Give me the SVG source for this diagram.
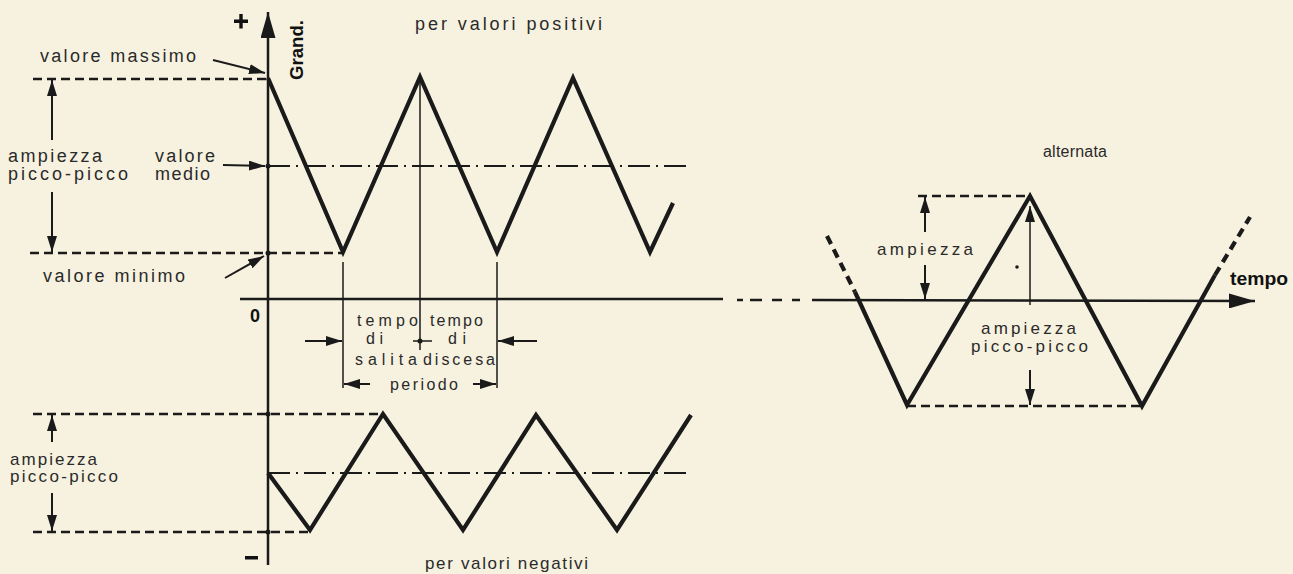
<svg xmlns="http://www.w3.org/2000/svg" width="1293" height="574" viewBox="0 0 1293 574">
<style>
.t{font-family:"Liberation Sans",Arial,sans-serif;font-size:18px;fill:#2a2a2a}
.s{font-size:17px}
.m{font-size:16px}
.b{font-weight:bold;fill:#111}
.w{fill:none;stroke:#1a1a1a;stroke-width:4.2;stroke-linejoin:miter}
.wd{fill:none;stroke:#1a1a1a;stroke-width:4.2;stroke-dasharray:9 6}
.ax{fill:none;stroke:#1a1a1a;stroke-width:2.5}
.th{fill:none;stroke:#1a1a1a;stroke-width:1.5}
.dl{fill:none;stroke:#1a1a1a;stroke-width:2.5;stroke-dasharray:9 5}
.dd{fill:none;stroke:#1a1a1a;stroke-width:2;stroke-dasharray:22 6 2 6}
.ar{fill:none;stroke:#1a1a1a;stroke-width:2;marker-end:url(#ah)}
.dot{fill:#1a1a1a}
</style>
<defs>
<marker id="ah" markerUnits="userSpaceOnUse" markerWidth="16" markerHeight="10" refX="16" refY="5" orient="auto">
<path d="M0,0 L16,5 L0,10 z" fill="#1a1a1a"/>
</marker>
<marker id="big" markerUnits="userSpaceOnUse" markerWidth="26" markerHeight="15" refX="26" refY="7.5" orient="auto">
<path d="M0,0 L26,7.5 L0,15 z" fill="#1a1a1a"/>
</marker>
</defs>
<rect width="1293" height="574" fill="#f7f2df"/>

<g id="axes">
<line class="ax" x1="268" y1="565" x2="268" y2="12" style="marker-end:url(#big)"/>
<line class="ax" x1="240" y1="299" x2="723" y2="299"/>
<path class="ax" d="M737,300 H743 M750,300 H762 M772,300 H782 M792,300 H800"/>
<line class="ax" x1="812" y1="300" x2="1255" y2="301" style="marker-end:url(#big)"/>
<path d="M234,19.5 H248 V23 H234 Z M239.3,14 H242.7 V28.5 H239.3 Z" fill="#111"/>
<rect x="245" y="556" width="13" height="3.5" fill="#111"/>
<text class="t b" x="250" y="322" font-size="17">0</text>
<text class="t b" transform="translate(303,80) rotate(-90)" textLength="60" lengthAdjust="spacingAndGlyphs">Grand.</text>
<text class="t b" x="1230" y="285" textLength="58" lengthAdjust="spacingAndGlyphs">tempo</text>
</g>

<g id="positive">
<text class="t" x="415" y="30" textLength="187" lengthAdjust="spacing">per valori positivi</text>
<line class="dl" x1="33" y1="79" x2="268" y2="79"/>
<line class="dl" x1="30" y1="253" x2="343" y2="253"/>
<line class="dd" x1="268" y1="166" x2="687" y2="166"/>
<polyline class="w" points="268,78 343,252 420,77 497,252 573,78 650,252 673,203"/>
<circle class="dot" cx="268" cy="166" r="2.5"/>
<circle class="dot" cx="268" cy="253" r="2.5"/>
</g>

<g id="labels-left">
<text class="t" x="40" y="62" textLength="156" lengthAdjust="spacing">valore massimo</text>
<text class="t" x="8" y="162" textLength="94" lengthAdjust="spacing">ampiezza</text>
<text class="t" x="8" y="180" textLength="120" lengthAdjust="spacing">picco-picco</text>
<text class="t" x="155" y="162" textLength="60" lengthAdjust="spacing">valore</text>
<text class="t" x="155" y="180" textLength="55" lengthAdjust="spacing">medio</text>
<text class="t" x="43" y="282" textLength="142" lengthAdjust="spacing">valore minimo</text>
</g>

<g id="timing">
<line class="th" x1="343" y1="262" x2="343" y2="388"/>
<line class="th" x1="420" y1="78" x2="420" y2="350"/>
<line class="th" x1="497" y1="262" x2="497" y2="388"/>
<line class="th" x1="413" y1="341" x2="432" y2="341"/>
<circle class="dot" cx="420" cy="341" r="2.5"/>
<text class="t m" x="357" y="326" textLength="61" lengthAdjust="spacing">tempo</text>
<text class="t m" x="366" y="344" textLength="17" lengthAdjust="spacing">di</text>
<text class="t m" x="355" y="365" textLength="62" lengthAdjust="spacing">salita</text>
<text class="t m" x="430" y="326" textLength="53" lengthAdjust="spacing">tempo</text>
<text class="t m" x="448" y="344" textLength="18" lengthAdjust="spacing">di</text>
<text class="t m" x="423" y="365" textLength="72" lengthAdjust="spacing">discesa</text>
<text class="t m" x="390" y="390" textLength="68" lengthAdjust="spacing">periodo</text>
</g>

<g id="negative">
<text class="t s" x="425" y="569" textLength="163" lengthAdjust="spacing">per valori negativi</text>
<line class="dl" x1="33" y1="414" x2="383" y2="414"/>
<line class="dl" x1="33" y1="532" x2="310" y2="532"/>
<line class="dd" x1="268" y1="473" x2="692" y2="473"/>
<polyline class="w" points="268,473 310,530 383,414 463,530 536,415 617,530 691,415"/>
<circle class="dot" cx="268" cy="414" r="2.5"/>
<circle class="dot" cx="268" cy="532" r="2.5"/>
<text class="t s" x="10" y="465" textLength="87" lengthAdjust="spacing">ampiezza</text>
<text class="t s" x="10" y="482" textLength="108" lengthAdjust="spacing">picco-picco</text>
</g>

<g id="alternata">
<text class="t m" x="1043" y="157" textLength="64" lengthAdjust="spacing">alternata</text>
<line class="dl" x1="918" y1="196" x2="1030" y2="196"/>
<line class="dl" x1="907" y1="406" x2="1142" y2="406"/>
<path class="wd" d="M827,236 L855,292"/>
<polyline class="w" points="855,292 907,405 1030,196 1142,406 1215,275"/>
<path class="wd" d="M1215,275 L1250,217"/>
<line class="th" x1="1030" y1="305" x2="1030" y2="206" style="marker-end:url(#ah)"/>
<text class="t s" x="877" y="255" textLength="96" lengthAdjust="spacing">ampiezza</text>
<text class="t s" x="981" y="334" textLength="95" lengthAdjust="spacing">ampiezza</text>
<text class="t s" x="971" y="352" textLength="117" lengthAdjust="spacing">picco-picco</text>
<circle class="dot" cx="1017" cy="267" r="1.8"/>
</g>

<g id="connectors">
<line class="ar" x1="213" y1="60" x2="265" y2="73"/>
<line class="ar" x1="223" y1="165" x2="265" y2="166"/>
<line class="ar" x1="225" y1="278" x2="264" y2="256"/>
<line class="ar" x1="52" y1="140" x2="52" y2="80"/>
<line class="ar" x1="52" y1="192" x2="52" y2="252"/>
<line class="ar" x1="305" y1="341" x2="342" y2="341"/>
<line class="ar" x1="537" y1="341" x2="498" y2="341"/>
<line class="ar" x1="370" y1="384" x2="344" y2="384"/>
<line class="ar" x1="473" y1="384" x2="496" y2="384"/>
<line class="ar" x1="52" y1="442" x2="52" y2="415"/>
<line class="ar" x1="52" y1="493" x2="52" y2="531"/>
<line class="ar" x1="925" y1="232" x2="925" y2="197"/>
<line class="ar" x1="925" y1="265" x2="925" y2="299"/>
<line class="ar" x1="1030" y1="370" x2="1030" y2="405"/>
</g>
</svg>
